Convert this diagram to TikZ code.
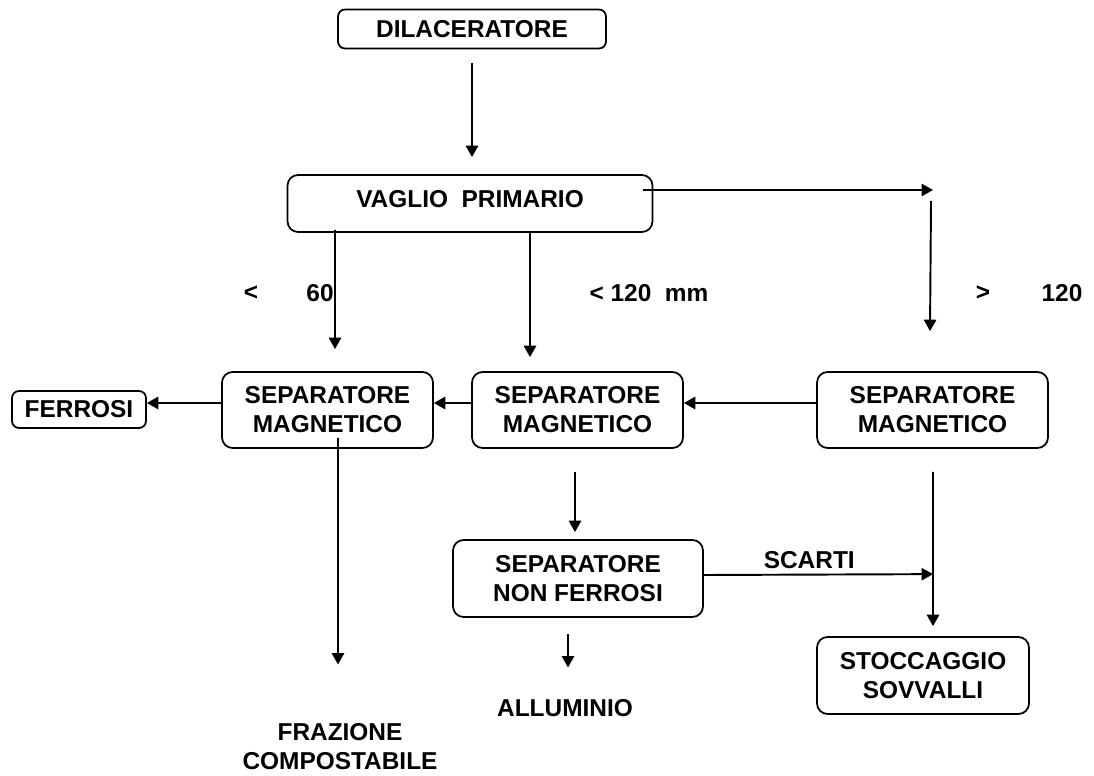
\documentclass[tikz,border=0pt]{standalone}
\usepackage{fontspec}
\setmainfont{Liberation Sans}
\usetikzlibrary{shapes,arrows.meta,positioning,calc}

\begin{document}
\begin{tikzpicture}[x=0.02cm,y=-0.02cm,
        font=\fontsize{13.9}{16.5}\selectfont\bfseries,
        box/.style={draw, line width=1pt, rounded corners=6pt, align=center, inner sep=2pt},
        smallbox/.style={box, rounded corners=4pt},
        flow/.style={line width=1.1pt, -{Triangle[length=6.5pt,width=7pt]}},
        lbl/.style={inner sep=0pt, align=center}]
        \useasboundingbox (0,0) rectangle (1094,776);

        % Boxes
        \node[smallbox, minimum width=5.36cm, minimum height=0.78cm] (dil) at (472,29) {DILACERATORE};
        \node[box, minimum width=7.3cm, minimum height=1.14cm, text depth=0.2cm] (vag) at (470,203.5) {VAGLIO\ \ PRIMARIO};
        \node[smallbox, minimum width=2.68cm, minimum height=0.74cm] (fer) at (79,409.5) {FERROSI};
        \node[box, minimum width=4.22cm, minimum height=1.52cm] (sm1) at (327.5,410) {SEPARATORE\\MAGNETICO};
        \node[box, minimum width=4.22cm, minimum height=1.52cm] (sm2) at (577.5,410) {SEPARATORE\\MAGNETICO};
        \node[box, minimum width=4.62cm, minimum height=1.52cm] (sm3) at (932.5,410) {SEPARATORE\\MAGNETICO};
        \node[box, minimum width=5cm, minimum height=1.54cm] (nfe) at (578,578.5) {SEPARATORE\\NON FERROSI};
        \node[box, minimum width=4.24cm, minimum height=1.54cm] (sto) at (923,675.5) {STOCCAGGIO\\SOVVALLI};

        % Outputs and sizes
        \node[lbl] (alu) at (565,708) {ALLUMINIO};
        \node[lbl] (fra) at (340,746.5) {FRAZIONE\\COMPOSTABILE};
        \node[lbl] (lt) at (251,293) {<};
        \node[lbl] (sixty) at (320,293) {60};
        \node[lbl] (mid) at (649,293) {< 120\ \ mm};
        \node[lbl] (gt) at (983,293) {>};
        \node[lbl] (big) at (1062,293) {120};

        \coordinate (split) at (933,190);

        % Flows
        \draw[flow] ($(dil.south)+(0,13.5)$) -- ($(vag.north)+(2,-17)$);
        \draw[flow] ($(vag.east)+(-10,-13.5)$) -- (split);
        \draw[flow] ($(split)+(-2,11)$) -- ($(sm3.north)+(-2.5,-40)$);
        \draw[flow] ($(vag.south)+(-135,-3)$) -- ($(sm1.north)+(7.5,-22)$);
        \draw[flow] ($(vag.south)+(60,-2)$) -- ($(sm2.north)+(-47.5,-14)$);
        \draw[flow] ($(sm3.west)+(0,-7)$) -- ($(sm2.east)+(0,-7)$);
        \draw[flow] ($(sm2.west)+(0,-7)$) -- ($(sm1.east)+(0,-7)$);
        \draw[flow] ($(sm1.west)+(0,-7)$) -- ($(fer.east)+(0,-6.5)$);
        \draw[flow] ($(sm1.south)+(10.5,-11)$) -- ($(fra.north)+(-2,-58.5)$);
        \draw[flow] ($(sm2.south)+(-2.5,23)$) -- ($(nfe.north)+(-3,-7)$);
        \draw[flow] ($(nfe.south)+(-10,16)$) -- ($(alu.north)+(3,-31.5)$);
        \draw[flow] ($(nfe.east)+(0,-3.5)$) -- ($(sto.north)+(10,-62)$) node[lbl, pos=0.46, above=2.6pt] {SCARTI};
        \draw[flow] ($(sm3.south)+(0.5,23)$) -- ($(sto.north)+(10,-10)$);
\end{tikzpicture}
\end{document}
